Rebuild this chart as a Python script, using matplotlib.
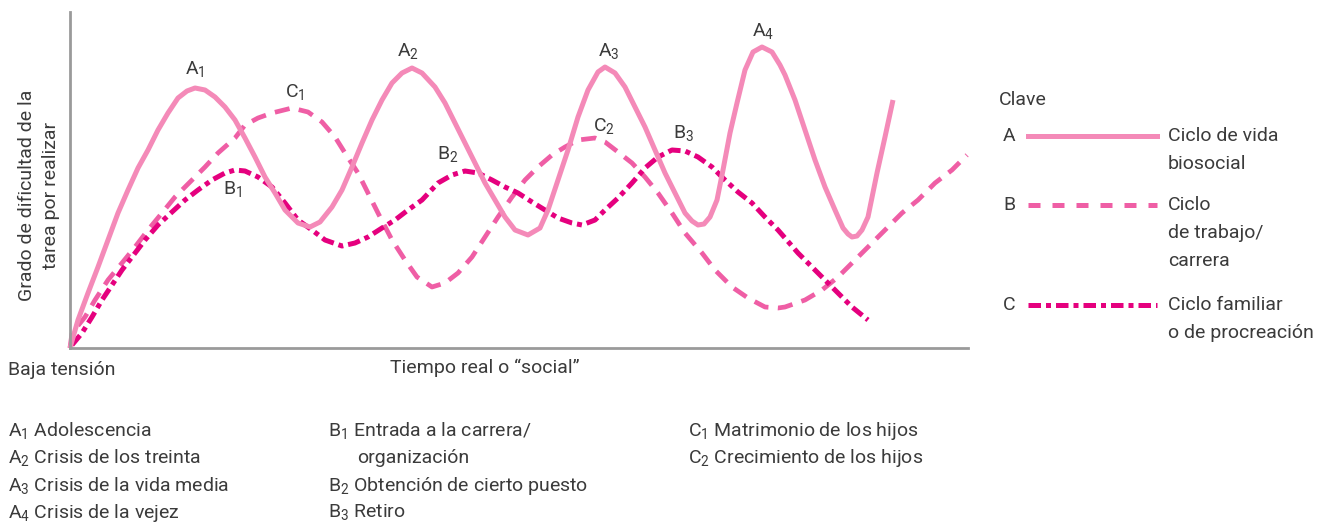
import matplotlib
matplotlib.use("Agg")
import matplotlib.pyplot as plt

# Curve A: ciclo de vida biosocial (solid)
a_t = [0, 8, 18, 28, 38, 48, 58, 68, 78, 88, 98, 108, 117, 125, 135, 145, 155,
       165, 175, 185, 195, 205, 215, 228, 240, 250, 262, 272, 282, 292, 302,
       312, 322, 332, 342, 352, 365, 375, 385, 395, 405, 415, 425, 435, 445,
       458, 470, 478, 488, 498, 508, 518, 528, 535, 545, 555, 565, 575, 585,
       595, 605, 615, 622, 628, 634, 640, 647, 653, 660, 667, 675, 683, 692,
       702, 710, 715, 725, 735, 745, 755, 765, 773, 778, 782, 787, 792, 798,
       807, 815, 823]
a_v = [0, 28, 55, 81, 108, 135, 158, 180, 198, 218, 235, 250, 257, 260, 258,
       251, 241, 228, 210, 191, 171, 155, 138, 125, 121, 126, 141, 158, 181,
       205, 228, 248, 265, 275, 280, 275, 261, 245, 225, 205, 185, 165, 148,
       131, 118, 113, 120, 138, 168, 198, 231, 258, 276, 281, 275, 261, 241,
       221, 198, 175, 155, 135, 127, 123, 124, 131, 148, 178, 215, 245, 278,
       296, 301, 296, 283, 273, 248, 218, 188, 161, 138, 120, 114, 111, 112,
       118, 131, 175, 211, 248]

# Curve with "C" labels, dashed line (ciclo de trabajo/carrera in key)
b_t = [0, 2, 15, 25, 38, 52, 65, 78, 92, 105, 122, 135, 148, 165, 175, 188,
       202, 222, 238, 252, 265, 275, 288, 298, 308, 322, 335, 347, 362, 375,
       388, 402, 415, 428, 442, 455, 468, 482, 495, 508, 525, 535, 548, 562,
       575, 588, 602, 615, 632, 645, 662, 678, 695, 708, 715, 735, 752, 768,
       785, 802, 818, 832, 848, 865, 882, 897]
b_v = [0, 15, 31, 48, 68, 85, 101, 118, 135, 151, 168, 181, 195, 210, 223, 230,
       235, 240, 236, 226, 211, 195, 175, 155, 135, 108, 88, 71, 61, 65,
       75, 91, 111, 131, 151, 168, 181, 193, 201, 208, 210, 206, 196, 185,
       171, 155, 135, 115, 95, 78, 61, 50, 41, 40, 41, 48, 58, 71,
       88, 105, 121, 135, 148, 165, 178, 193]

# Curve with "B" labels, dash-dot line (ciclo familiar in key)
c_t = [2, 12, 22, 32, 42, 52, 62, 75, 88, 102, 115, 128, 142, 155, 165, 175,
       188, 202, 215, 228, 242, 255, 272, 285, 298, 312, 325, 338, 352, 368,
       382, 395, 408, 422, 435, 448, 462, 475, 488, 502, 512, 525, 535, 548,
       562, 575, 588, 602, 615, 628, 642, 655, 668, 682, 695, 708, 715, 728,
       742, 755, 768, 782, 798]
c_v = [3, 15, 31, 48, 63, 78, 91, 108, 123, 136, 148, 158, 168, 175, 178, 177,
       171, 161, 145, 128, 118, 108, 102, 105, 111, 120, 128, 138, 148, 165,
       173, 177, 175, 168, 161, 155, 146, 138, 130, 125, 123, 128, 138, 150,
       165, 180, 191, 198, 197, 191, 181, 168, 156, 145, 131, 118, 110, 95,
       81, 68, 55, 41, 28]

peak_labels = [("A", "1", 195, 70), ("A", "2", 408, 52), ("A", "3", 609, 52),
               ("A", "4", 763, 32), ("C", "1", 295, 93), ("C", "2", 604, 127),
               ("B", "1", 233, 190), ("B", "2", 448, 155), ("B", "3", 684, 134)]

notes_a = [("A", "1", "Adolescencia"), ("A", "2", "Crisis de los treinta"),
           ("A", "3", "Crisis de la vida media"), ("A", "4", "Crisis de la vejez")]
notes_c = [("C", "1", "Matrimonio de los hijos"), ("C", "2", "Crecimiento de los hijos")]

key_names = [("A", ["Ciclo de vida", "biosocial"]),
             ("B", ["Ciclo", "de trabajo/", "carrera"]),
             ("C", ["Ciclo familiar", "o de procreación"])]

col_a = "#f48ab8"
col_b = "#ef5ea5"
col_c = "#e5007e"
txt = "#3b3b3b"
W, H = 1342, 524

plt.rcParams["font.family"] = ["Roboto", "DejaVu Sans"]
fig = plt.figure(figsize=(W / 100, H / 100), dpi=100)

# main axes placed at pixel positions of the reference
x0, x1, ytop, ybot = 70, 968, 12, 348
ax = fig.add_axes([x0 / W, 1 - ybot / H, (x1 - x0) / W, (ybot - ytop) / H])
ax.set_xlim(0, x1 - x0)
ax.set_ylim(0, ybot - ytop)
for s in ["top", "right"]:
    ax.spines[s].set_visible(False)
for s in ["left", "bottom"]:
    ax.spines[s].set_color("#9a9a9a")
    ax.spines[s].set_linewidth(2)
ax.set_xticks([])
ax.set_yticks([])

ax.plot(b_t, b_v, color=col_b, lw=3.4, dashes=(3.2, 2.0), clip_on=False,
        solid_joinstyle="round")
ax.plot(c_t, c_v, color=col_c, lw=3.6, dashes=(2.5, 1.0, 1.0, 1.0), clip_on=False)
ax.plot(a_t, a_v, color=col_a, lw=3.6, solid_capstyle="butt", clip_on=False,
        solid_joinstyle="round")

# overlay in pixel coordinates for text and key
ov = fig.add_axes([0, 0, 1, 1], facecolor="none")
ov.set_xlim(0, W)
ov.set_ylim(H, 0)
ov.axis("off")

fs = 14
def sub(letter, n):
    return letter + r"$_\mathregular{" + n + "}$"

for l, n, x, y in peak_labels:
    ov.text(x, y, sub(l, n), fontsize=fs, color=txt, ha="center", va="center")

ov.text(27, 195, "Grado de dificultad de la", rotation=90, fontsize=fs,
        color=txt, ha="center", va="center")
ov.text(51, 195, "tarea por realizar", rotation=90, fontsize=fs,
        color=txt, ha="center", va="center")
ov.text(8, 370, "Baja tensión", fontsize=fs, color=txt, va="center")
ov.text(390, 368, "Tiempo real o “social”", fontsize=fs, color=txt, va="center")

# key
ov.text(999, 100, "Clave", fontsize=fs, color=txt, va="center")
key_y = [136, 205, 305]
styles = [dict(color=col_a, lw=3.6), dict(color=col_b, lw=3.6, dashes=(2.4, 2.4)),
          dict(color=col_c, lw=3.6, dashes=(2.5, 1.0, 1.0, 1.0))]
for (letter, lines), y, st in zip(key_names, key_y, styles):
    ov.text(1003, y, letter, fontsize=fs, color=txt, va="center")
    ov.plot([1028, 1157], [y, y], **st)
    for i, line in enumerate(lines):
        ov.text(1168, y + i * 28, line, fontsize=fs, color=txt, va="center")

# notes below
row = [431, 458, 486, 513]
for (l, n, t), y in zip(notes_a, row):
    ov.text(8, y, sub(l, n) + " " + t, fontsize=fs, color=txt, va="center")
ov.text(328, row[0], sub("B", "1") + " Entrada a la carrera/", fontsize=fs, color=txt, va="center")
ov.text(357, row[1], "organización", fontsize=fs, color=txt, va="center")
ov.text(328, row[2], sub("B", "2") + " Obtención de cierto puesto", fontsize=fs, color=txt, va="center")
ov.text(328, row[3], sub("B", "3") + " Retiro", fontsize=fs, color=txt, va="center")
for (l, n, t), y in zip(notes_c, row):
    ov.text(688, y, sub(l, n) + " " + t, fontsize=fs, color=txt, va="center")

fig.savefig("out.png", dpi=100)
